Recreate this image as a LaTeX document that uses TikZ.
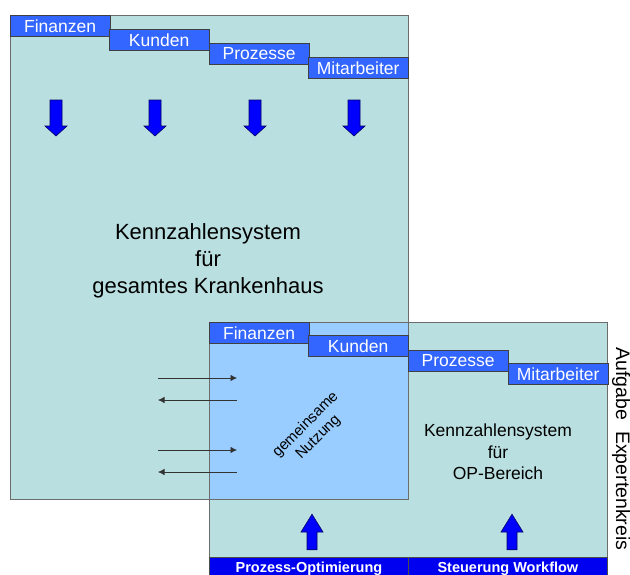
\documentclass[tikz,border=0pt]{standalone}
\usepackage{fontspec}
\setmainfont{Liberation Sans}
\usepackage[usenames]{xcolor}
\usepackage{tikz}
\usetikzlibrary{positioning}
\usetikzlibrary{arrows.meta}
\definecolor{panelteal}{HTML}{BADFE0}
\definecolor{sharedblue}{HTML}{99CCFF}
\definecolor{tabblue}{HTML}{3366FF}
\definecolor{arrowblue}{HTML}{0000FF}
\definecolor{barblue}{HTML}{0000F0}
\tikzset{my_diagram/.style={x=1pt,y=-1pt,>={Latex[length=6.5pt,width=6.5pt]}}}
\tikzset{my_panel/.style={rectangle, draw=gray!85!black, line width=0.9pt, fill=panelteal, anchor=north west, inner sep=0pt}}
\tikzset{my_shared/.style={my_panel, fill=sharedblue}}
\tikzset{my_tab/.style={rectangle, draw=black!75, line width=0.8pt, fill=tabblue, text=white, font=\fontsize{17.5}{20}\selectfont, minimum width=99.5pt, minimum height=21pt, anchor=north west, inner sep=0pt}}
\tikzset{my_bar/.style={rectangle, draw=black!70, line width=0.8pt, fill=barblue, text=white, font=\bfseries\fontsize{14.5}{16}\selectfont, text height=10.5pt, text depth=0pt, minimum width=199pt, minimum height=20pt, anchor=north west, inner sep=0pt}}
\tikzset{my_flow/.style={->, line width=0.7pt, draw=black!80}}
\tikzset{my_fat/.style={draw=black!60!blue, line width=0.6pt, fill=arrowblue}}
\tikzset{my_down_arrow/.pic={\path[my_fat] (-6,-18) -- (-6,8) -- (-11,8) -- (0,18) -- (11,8) -- (6,8) -- (6,-18) -- cycle;}}
\tikzset{my_up_arrow/.pic={\path[my_fat] (-5,17.75) -- (-5,0) -- (-11,0) -- (0,-17.75) -- (11,0) -- (5,0) -- (5,17.75) -- cycle;}}

\begin{document}
\begin{tikzpicture}[my_diagram]
    \useasboundingbox (0,0) rectangle (630,574);
    \clip (0,0) rectangle (630,574);
    %\draw[help lines, step=50] (0,0) grid (630,574);
    \node[my_panel, minimum width=398pt, minimum height=484pt] (haus) at (10,15) {};
    \node[my_panel, minimum width=398pt, minimum height=235pt] (op) at (209,322) {};
    \node[my_shared, minimum width=199pt, minimum height=177pt] (shared) at (209,322) {};

    % Perspektiven Krankenhaus
    \node[my_tab] (fin) at (10,15) {Finanzen};
    \node[my_tab] (kun) at (109,29) {Kunden};
    \node[my_tab] (pro) at (209,43) {Prozesse};
    \node[my_tab] (mit) at (308,57) {Mitarbeiter};

    % Perspektiven OP
    \node[my_tab] (opfin) at (209,322) {Finanzen};
    \node[my_tab] (opkun) at (308,335) {Kunden};
    \node[my_tab] (oppro) at (408,349.5) {Prozesse};
    \node[my_tab] (opmit) at (508,363) {Mitarbeiter};

    \pic at (56,118) {my_down_arrow};
    \pic at (155,118) {my_down_arrow};
    \pic at (255,118) {my_down_arrow};
    \pic at (354,118) {my_down_arrow};

    \node[font=\fontsize{22}{27}\selectfont, align=center] (haustext) at (208,261) {Kennzahlensystem\\für\\gesamtes Krankenhaus};
    \node[font=\fontsize{17.5}{21.3}\selectfont, align=center] (optext) at (498,452) {Kennzahlensystem\\für\\OP-Bereich};
    \node[rotate=45, font=\fontsize{15}{17.7}\selectfont, align=center] (nutzung) at (312,431) {gemeinsame\\Nutzung};

    \coordinate (l1) at (158,378);
    \coordinate (r1) at (237,378);
    \coordinate (l2) at (158,400);
    \coordinate (r2) at (237,400);
    \coordinate (l3) at (158,450);
    \coordinate (r3) at (237,450);
    \coordinate (l4) at (158,472);
    \coordinate (r4) at (237,472);
    \path
        (l1) edge [my_flow] (r1)
        (r2) edge [my_flow] (l2)
        (l3) edge [my_flow] (r3)
        (r4) edge [my_flow] (l4)
    ;

    \pic at (312,532) {my_up_arrow};
    \pic at (512,532) {my_up_arrow};

    \node[my_bar] (optim) at (209,557) {Prozess-Optimierung};
    \node[my_bar] (workflow) at (408,557) {Steuerung Workflow};

    \node[rotate=-90, anchor=base, font=\fontsize{19.5}{22}\selectfont] (aufgabe) at (616,449) {Aufgabe\ \ Expertenkreis};
\end{tikzpicture}
\end{document}
